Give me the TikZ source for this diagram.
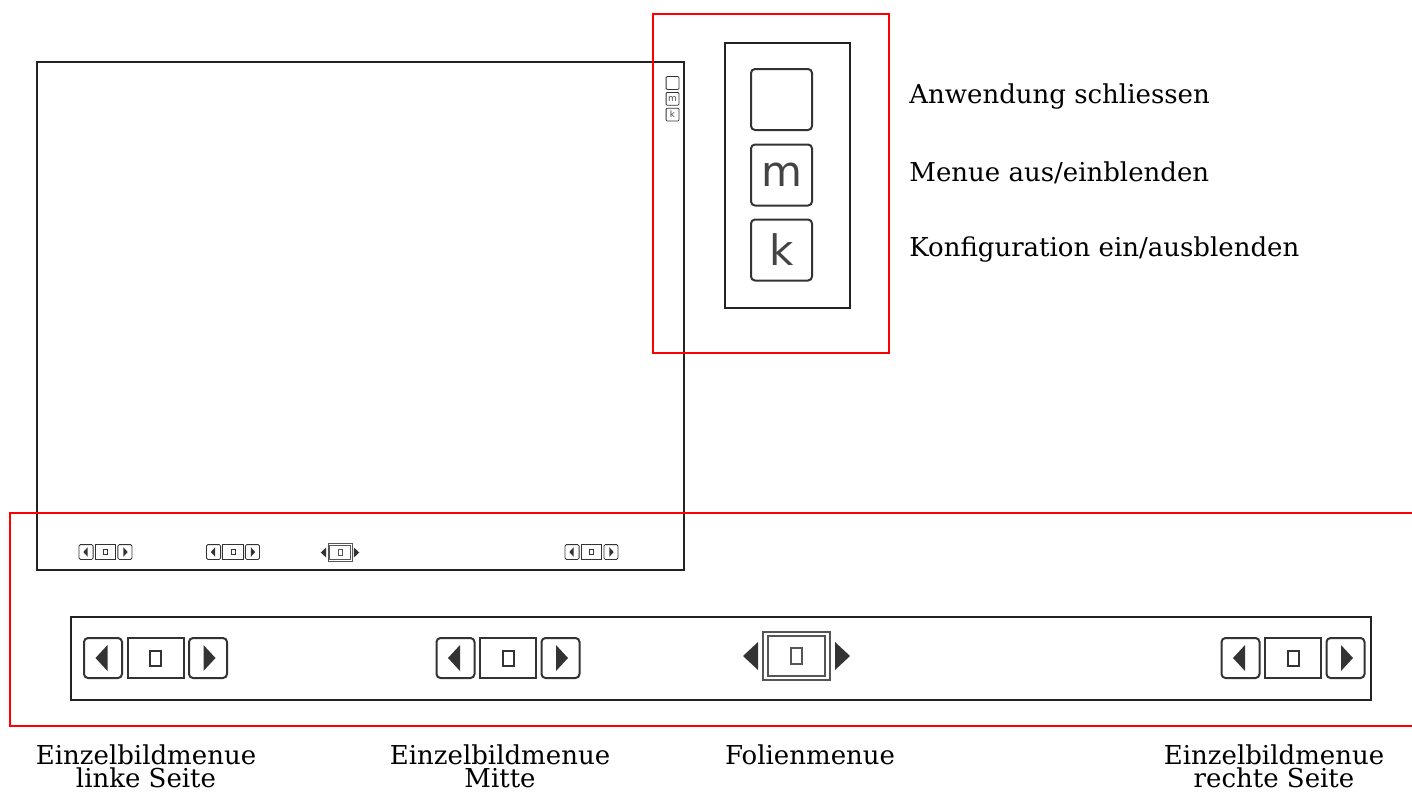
\documentclass[tikz,border=0pt]{standalone}
\usepackage{fontspec}
\setmainfont{DejaVu Serif}
\setsansfont{DejaVu Sans}
\usetikzlibrary{positioning}

\definecolor{frame}{HTML}{222222}
\definecolor{knob}{HTML}{333333}
\definecolor{letter}{HTML}{444444}
\definecolor{slide}{HTML}{555555}

\tikzset{
  icon lw/.store in=\iconlw, icon lw=1pt,
  icon rc/.store in=\iconrc, icon rc=2pt,
  frame/.style={draw=frame, line width=1pt},
  redbox/.style={draw=red, line width=1pt},
  sidebtn/.style={draw=knob, line width=\iconlw, rounded corners=\iconrc},
  midbtn/.style={draw=knob, line width=\iconlw},
  desc/.style={font=\fontsize{13}{11.5}\selectfont, inner sep=0pt},
  % navigation: left, middle, right
  pics/navbar/.style={code={
    \draw[sidebtn] (-71.5,-20) rectangle (-33.5,20);
    \fill[knob] (-60,0) -- (-48,-13) -- (-48,13) -- cycle;
    \draw[midbtn] (-28,-20) rectangle (28,20);
    \draw[midbtn] (-5.5,-7.5) rectangle (5.5,7.5);
    \draw[sidebtn] (33.5,-20) rectangle (71.5,20);
    \fill[knob] (60,0) -- (48,-13) -- (48,13) -- cycle;
  }},
  % slide navigation
  pics/slidebar/.style={code={
    \draw[midbtn, draw=slide] (-33.5,-24) rectangle (33.5,24);
    \draw[midbtn, draw=slide] (-28.5,-20) rectangle (28.5,20);
    \draw[midbtn, draw=slide] (-5.5,-8) rectangle (5.5,8);
    \fill[knob] (-53.5,0) -- (-38.5,-14) -- (-38.5,14) -- cycle;
    \fill[knob] (53.5,0) -- (38.5,-14) -- (38.5,14) -- cycle;
  }},
  % window buttons
  pics/winmenu/.style={code={
    \draw[sidebtn] (-30.5,-30.5) rectangle (30.5,30.5);
    \draw[sidebtn] (-30.5,45) rectangle (30.5,106);
    \node[transform shape, text=letter, font=\sffamily\fontsize{21}{21}\selectfont] (-m) at (0,75.5) {m};
    \draw[sidebtn] (-30.5,120) rectangle (30.5,181);
    \node[transform shape, text=letter, font=\sffamily\fontsize{21}{21}\selectfont] (-k) at (0,150.5) {k};
  }},
}

\begin{document}
\begin{tikzpicture}[x=0.5pt, y=-0.5pt]

\def\bary{658}
\path [use as bounding box] (0,0) rectangle (1412,793);

% SCREEN
\draw [frame] (37,62) rectangle (684,570);
\pic [scale=0.21, icon lw=0.4pt, icon rc=0.5pt] (smallwin) at (672.5,83) {winmenu};
\pic [scale=0.37, icon lw=0.4pt, icon rc=0.7pt] (smallleft) at (105.5,552) {navbar};
\pic [scale=0.37, icon lw=0.4pt, icon rc=0.7pt] (smallmid) at (233,552) {navbar};
\pic [scale=0.36, icon lw=0.4pt] (smallslide) at (340,552.5) {slidebar};
\pic [scale=0.37, icon lw=0.4pt, icon rc=0.7pt] (smallright) at (591.5,552) {navbar};

% WINDOW MENU
\draw [redbox] (653,14) rectangle (889,353);
\draw [frame] (725,43) rectangle (850,308);
\pic (win) at (781.5,99.5) {winmenu};

\node [desc, anchor=west] (close) at (909,97) {Anwendung schliessen};
\node [desc, anchor=west] (menu) at (909,173) {Menue aus/einblenden};
\node [desc, anchor=west] (config) at (909,250) {Konfiguration ein/ausblenden};

% MENU BAR
\draw [redbox] (1413,513) -- (10,513) -- (10,726) -- (1413,726);
\draw [frame] (71,617) rectangle (1371,700);
\pic (left) at (155.5,\bary) {navbar};
\pic (mid) at (508,\bary) {navbar};
\pic (slide) at (796.5,656) {slidebar};
\pic (right) at (1293,\bary) {navbar};

\node [desc, align=center] (leftcap) at (146,766) {Einzelbildmenue\\linke Seite};
\node [desc, align=center] (midcap) at (500,766) {Einzelbildmenue\\Mitte};
\node [desc] (slidecap) at (810,755) {Folienmenue};
\node [desc, align=center] (rightcap) at (1274,766) {Einzelbildmenue\\rechte Seite};

\end{tikzpicture}
\end{document}
